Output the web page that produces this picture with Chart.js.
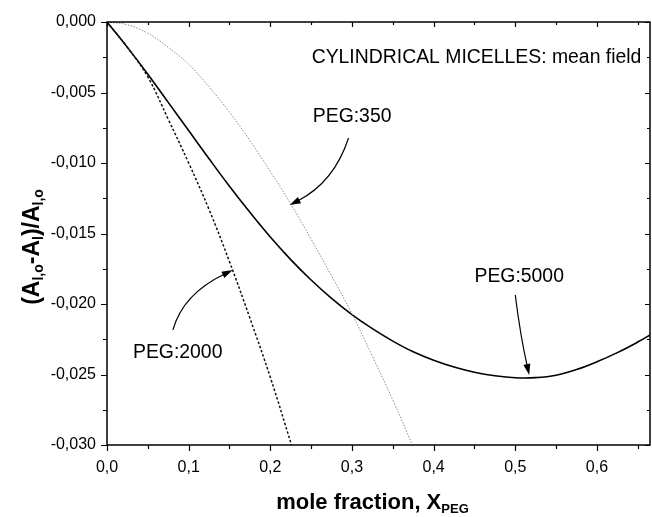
<!DOCTYPE html>
<html><head><meta charset="utf-8">
<script src="https://cdn.jsdelivr.net/npm/chart.js@4/dist/chart.umd.min.js"></script>
<style>html,body{margin:0;padding:0;background:#fff}#wrap{width:652px;height:517px}</style>
</head><body><div id="wrap"><canvas id="c" width="652" height="517"></canvas></div>
<script>
// ---- data ----
const peg5000X = [0, 0.025, 0.05, 0.075, 0.1, 0.125, 0.15, 0.175, 0.2, 0.225, 0.25, 0.275, 0.3, 0.325, 0.35, 0.375, 0.4, 0.425, 0.45, 0.475, 0.5, 0.525, 0.55, 0.575, 0.6, 0.625, 0.65, 0.665];
const peg5000Y = [0, -0.0018, -0.0037, -0.0057, -0.0077, -0.0097, -0.01165, -0.0135, -0.01525, -0.01685, -0.0183, -0.0196, -0.02075, -0.02175, -0.02263, -0.02339, -0.02399, -0.02447, -0.02484, -0.02509, -0.02523, -0.02522, -0.02505, -0.02465, -0.0241, -0.02345, -0.0227, -0.0222];
const peg2000X = [0, 0.025, 0.05, 0.075, 0.1, 0.125, 0.15, 0.175, 0.2, 0.226];
const peg2000Y = [0, -0.0018, -0.0039, -0.0069, -0.0100, -0.0133, -0.0170, -0.0210, -0.0252, -0.0300];
const peg350X = [0, 0.025, 0.05, 0.075, 0.1, 0.125, 0.15, 0.175, 0.2, 0.225, 0.25, 0.275, 0.3, 0.325, 0.35, 0.374];
const peg350Y = [0, -0.0002, -0.0008, -0.0018, -0.0030, -0.0046, -0.0064, -0.0084, -0.0106, -0.0129, -0.0154, -0.0180, -0.0207, -0.0237, -0.0268, -0.0300];
const xTicks = [0, 0.1, 0.2, 0.3, 0.4, 0.5, 0.6];
const xMinor = [0.05, 0.15, 0.25, 0.35, 0.45, 0.55, 0.65];
const yTicks = [0, -0.005, -0.010, -0.015, -0.020, -0.025, -0.030];
const yMinor = [-0.0025, -0.0075, -0.0125, -0.0175, -0.0225, -0.0275];
const xRange = [0, 0.665];
const yRange = [-0.030, 0];
const labels = [
  {text: 'CYLINDRICAL MICELLES: mean field', x: 0.2506, y: -0.00255},
  {text: 'PEG:350', x: 0.252, y: -0.00674},
  {text: 'PEG:5000', x: 0.450, y: -0.01809},
  {text: 'PEG:2000', x: 0.0318, y: -0.02348}
];
// arrows: start, control, tip (data units)
const arrows = [
  {from: [0.2958, -0.00823], ctrl: [0.278, -0.01138], to: [0.2237, -0.01298]},
  {from: [0.0807, -0.02184], ctrl: [0.0929, -0.01929], to: [0.154, -0.01759]},
  {from: [0.500, -0.01936], ctrl: [0.5061, -0.0222], to: [0.5171, -0.02504]}
];
const FONT = '"Liberation Sans", Arial, Helvetica, sans-serif';

const pts = (xs, ys) => xs.map((x, i) => ({x: x, y: ys[i]}));

const decor = {
  id: 'decor',
  afterDraw(chart) {
    const ctx = chart.ctx, a = chart.chartArea;
    const xs = chart.scales.x, ys = chart.scales.y;
    ctx.save();
    ctx.strokeStyle = '#000';
    ctx.lineWidth = 1.5;
    ctx.strokeRect(a.left, a.top, a.right - a.left, a.bottom - a.top);
    ctx.lineWidth = 1.2;
    ctx.beginPath();
    const tickX = (v, len) => {
      const p = Math.round(xs.getPixelForValue(v)) + 0.5;
      ctx.moveTo(p, a.bottom); ctx.lineTo(p, a.bottom + len);
      ctx.moveTo(p, a.top); ctx.lineTo(p, a.top + len - 1);
    };
    const tickY = (v, len) => {
      const p = Math.round(ys.getPixelForValue(v)) + 0.5;
      ctx.moveTo(a.left, p); ctx.lineTo(a.left - len, p);
      ctx.moveTo(a.right, p); ctx.lineTo(a.right - len + 1, p);
    };
    xTicks.forEach(v => tickX(v, 6));
    xMinor.forEach(v => tickX(v, 4));
    yTicks.forEach(v => tickY(v, 6));
    yMinor.forEach(v => tickY(v, 4));
    ctx.stroke();

    // annotation labels
    ctx.fillStyle = '#000';
    ctx.font = '19.4px ' + FONT;
    ctx.textBaseline = 'middle';
    ctx.textAlign = 'left';
    labels.forEach(l => ctx.fillText(l.text, xs.getPixelForValue(l.x), ys.getPixelForValue(l.y)));

    // arrows
    arrows.forEach(ar => {
      const P0 = [xs.getPixelForValue(ar.from[0]), ys.getPixelForValue(ar.from[1])];
      const C = [xs.getPixelForValue(ar.ctrl[0]), ys.getPixelForValue(ar.ctrl[1])];
      const P2 = [xs.getPixelForValue(ar.to[0]), ys.getPixelForValue(ar.to[1])];
      const dx = P2[0] - C[0], dy = P2[1] - C[1];
      const L = Math.hypot(dx, dy), ux = dx / L, uy = dy / L;
      const hl = 11, hw = 3.5;
      const bx = P2[0] - ux * hl, by = P2[1] - uy * hl;
      ctx.lineWidth = 1.2;
      ctx.beginPath();
      ctx.moveTo(P0[0], P0[1]);
      ctx.quadraticCurveTo(C[0], C[1], bx + ux * 2, by + uy * 2);
      ctx.stroke();
      ctx.beginPath();
      ctx.moveTo(P2[0], P2[1]);
      ctx.lineTo(bx - uy * hw, by + ux * hw);
      ctx.lineTo(bx + uy * hw, by - ux * hw);
      ctx.closePath();
      ctx.fill();
    });

    // axis titles with subscripts
    const drawRich = (parts, cx, cy, rot, bigPx, smallPx) => {
      const big = 'bold ' + bigPx + 'px ' + FONT, small = 'bold ' + smallPx + 'px ' + FONT;
      let w = 0;
      parts.forEach(p => { ctx.font = p[1] ? small : big; w += ctx.measureText(p[0]).width; });
      ctx.save();
      ctx.translate(cx, cy);
      if (rot) ctx.rotate(-Math.PI / 2);
      ctx.textAlign = 'left';
      ctx.textBaseline = 'alphabetic';
      let x = -w / 2;
      parts.forEach(p => {
        ctx.font = p[1] ? small : big;
        ctx.fillText(p[0], x, p[1] ? 12 : 8);
        x += ctx.measureText(p[0]).width;
      });
      ctx.restore();
    };
    drawRich([['mole fraction, X', 0], ['PEG', 1]], (a.left + a.right) / 2 - 6, 501, false, 22, 13);
    drawRich([['(A', 0], ['l,o', 1], ['-A', 0], ['l', 1], [')/A', 0], ['l,o', 1]], 31, 247, true, 23, 14);
    ctx.restore();
  }
};

new Chart(document.getElementById('c'), {
  type: 'scatter',
  data: {
    datasets: [
      {label: 'PEG:350', data: pts(peg350X, peg350Y), showLine: true, borderColor: '#8c8c8c', borderWidth: 1, borderDash: [1.5, 1.5], pointRadius: 0, tension: 0.4},
      {label: 'PEG:2000', data: pts(peg2000X, peg2000Y), showLine: true, borderColor: '#111', borderWidth: 1.5, borderDash: [2.5, 2], pointRadius: 0, tension: 0.4},
      {label: 'PEG:5000', data: pts(peg5000X, peg5000Y), showLine: true, borderColor: '#000', borderWidth: 1.6, pointRadius: 0, tension: 0.4}
    ]
  },
  options: {
    responsive: false, animation: false, devicePixelRatio: 1,
    layout: {padding: {top: 22, right: 2, left: 0, bottom: 0}},
    plugins: {legend: {display: false}, tooltip: {enabled: false}},
    scales: {
      x: {
        type: 'linear', min: xRange[0], max: xRange[1],
        grid: {display: false, drawTicks: false, tickLength: 0}, border: {display: false},
        ticks: {color: '#000', padding: 13, font: {family: FONT, size: 16}, maxRotation: 0,
          callback: v => v.toFixed(1).replace('.', ',')},
        afterBuildTicks: s => { s.ticks = xTicks.map(v => ({value: v})); },
        afterFit: s => { s.height = 72; }
      },
      y: {
        type: 'linear', min: yRange[0], max: yRange[1],
        grid: {display: false, drawTicks: false, tickLength: 0}, border: {display: false},
        ticks: {color: '#000', padding: 11, font: {family: FONT, size: 16},
          callback: v => v.toFixed(3).replace('.', ',')},
        afterBuildTicks: s => { s.ticks = yTicks.map(v => ({value: v})); },
        afterFit: s => { s.width = 107; }
      }
    }
  },
  plugins: [decor]
});
</script>
</body></html>
